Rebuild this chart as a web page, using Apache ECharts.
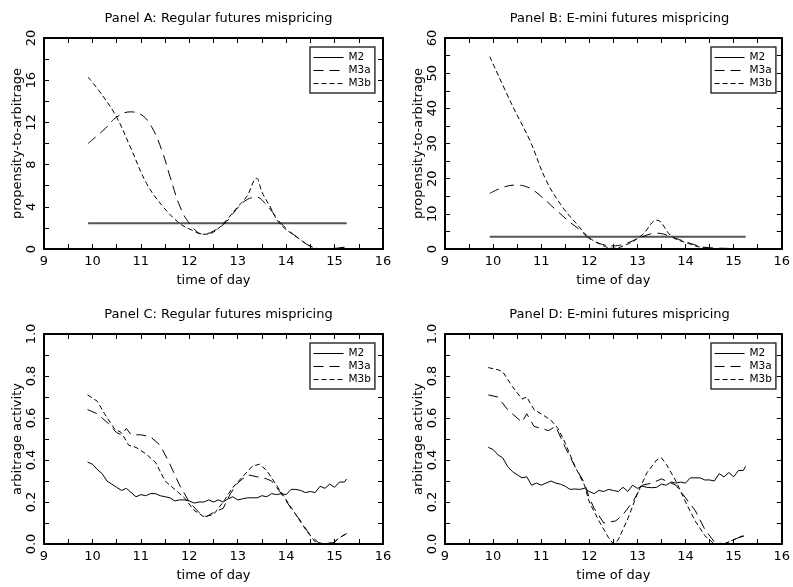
<!DOCTYPE html>
<html>
<head>
<meta charset="utf-8">
<script src="https://cdn.jsdelivr.net/npm/echarts@6/dist/echarts.min.js"></script>
<style>
html,body{margin:0;padding:0;background:#fff;}
#chart{width:793px;height:587px;}
</style>
</head>
<body>
<div id="chart"></div>
<script>
// ---- Data ----
const seriesNames = ['M2', 'M3a', 'M3b'];
const panelTitles = [
  'Panel A: Regular futures mispricing',
  'Panel B: E-mini futures mispricing',
  'Panel C: Regular futures mispricing',
  'Panel D: E-mini futures mispricing'
];
const yAxisNames = ['propensity-to-arbitrage', 'propensity-to-arbitrage', 'arbitrage activity', 'arbitrage activity'];
const xTickRange = [9, 16, 1];
const yTickRanges = [[0, 20, 4], [0, 60, 10], [0, 1, 0.2], [0, 1, 0.2]];

// Panel A
const aX_M2 = [9.91, 15.25];
const aY_M2 = [2.45, 2.45];
const aX_M3a = [9.91, 10.26, 10.5, 10.78, 11.02, 11.22, 11.43, 11.6, 11.81, 12.01, 12.29, 12.5, 12.77, 13.0, 13.2, 13.4, 13.55, 13.7, 13.9, 14.21, 14.56, 14.8, 15.0, 15.25];
const aY_M3a = [10.0, 11.4, 12.5, 13.0, 12.7, 11.6, 9.4, 6.9, 4.0, 2.4, 1.4, 1.7, 2.6, 3.9, 4.7, 4.9, 4.4, 3.6, 2.4, 1.17, 0.15, 0.0, 0.05, 0.2];
const aX_M3b = [9.91, 10.2, 10.5, 10.78, 11.12, 11.46, 11.81, 12.05, 12.29, 12.5, 12.77, 13.0, 13.19, 13.39, 13.5, 13.67, 13.87, 14.21, 14.56, 14.8, 15.0, 15.25];
const aY_M3b = [16.3, 14.6, 12.5, 9.7, 6.2, 4.0, 2.4, 1.8, 1.4, 1.6, 2.75, 4.0, 5.0, 6.7, 5.4, 4.0, 2.4, 1.17, 0.15, 0.0, 0.05, 0.2];

// Panel B
const bX_M2 = [9.93, 15.25];
const bY_M2 = [3.5, 3.5];
const bX_M3a = [9.93, 10.2, 10.48, 10.75, 10.96, 11.31, 11.58, 11.8, 12.0, 12.27, 12.5, 12.75, 13.1, 13.4, 13.8, 14.1, 14.4, 14.8, 15.25];
const bY_M3a = [15.8, 17.5, 18.2, 17.4, 15.4, 11.1, 7.8, 5.5, 3.0, 1.3, 0.9, 1.5, 3.5, 4.5, 3.0, 1.6, 0.5, 0.2, 0.1];
const bX_M3b = [9.93, 10.41, 10.76, 11.1, 11.44, 11.79, 11.99, 12.27, 12.48, 12.75, 13.1, 13.4, 13.72, 14.06, 14.4, 14.8, 15.25];
const bY_M3b = [54.7, 40.5, 31.0, 19.6, 12.0, 6.3, 3.3, 1.1, 0.2, 1.1, 4.0, 8.2, 3.5, 1.6, 0.3, 0.1, 0.1];

// Panel C
const cX_M2 = [9.9,10.0,10.1,10.2,10.3,10.4,10.5,10.6,10.7,10.8,10.9,11.0,11.1,11.2,11.3,11.4,11.5,11.6,11.7,11.8,11.9,12.0,12.1,12.2,12.3,12.4,12.5,12.6,12.7,12.8,12.9,13.0,13.1,13.2,13.3,13.4,13.5,13.6,13.7,13.8,13.9,14.0,14.1,14.2,14.3,14.4,14.5,14.6,14.7,14.8,14.9,15.0,15.1,15.2,15.25];
const cY_M2 = [0.39,0.38,0.355,0.335,0.30,0.285,0.27,0.255,0.265,0.245,0.225,0.235,0.23,0.24,0.24,0.23,0.225,0.22,0.205,0.21,0.21,0.205,0.195,0.20,0.20,0.21,0.20,0.21,0.20,0.215,0.225,0.21,0.215,0.22,0.22,0.22,0.23,0.225,0.24,0.235,0.24,0.235,0.26,0.26,0.255,0.245,0.25,0.245,0.275,0.265,0.285,0.27,0.295,0.295,0.31];
const cX_M3a = [9.9,10.1,10.3,10.5,10.6,10.7,10.8,11.0,11.2,11.4,11.6,11.8,12.0,12.2,12.35,12.5,12.7,12.85,13.0,13.2,13.4,13.6,13.7,13.9,14.1,14.3,14.5,14.7,14.9,15.0,15.1,15.25];
const cY_M3a = [0.64,0.62,0.58,0.53,0.52,0.55,0.52,0.52,0.51,0.47,0.38,0.28,0.20,0.15,0.13,0.15,0.17,0.24,0.29,0.33,0.32,0.31,0.30,0.24,0.17,0.11,0.04,0.0,0.0,0.01,0.03,0.05];
const cX_M3b = [9.9,10.1,10.25,10.45,10.6,10.75,10.9,11.1,11.3,11.5,11.7,11.9,12.1,12.3,12.5,12.7,12.9,13.1,13.3,13.45,13.6,13.8,14.0,14.2,14.4,14.6,14.8,15.0,15.1,15.25];
const cY_M3b = [0.71,0.68,0.62,0.55,0.53,0.47,0.46,0.43,0.39,0.30,0.26,0.22,0.16,0.13,0.14,0.20,0.27,0.32,0.37,0.38,0.35,0.28,0.21,0.14,0.07,0.01,0.0,0.01,0.03,0.05];

// Panel D
const dX_M2 = [9.9,10.0,10.1,10.2,10.3,10.4,10.5,10.6,10.7,10.8,10.9,11.0,11.1,11.2,11.3,11.4,11.5,11.6,11.7,11.8,11.9,12.0,12.1,12.2,12.3,12.4,12.5,12.6,12.7,12.8,12.9,13.0,13.1,13.2,13.3,13.4,13.5,13.6,13.7,13.8,13.9,14.0,14.1,14.2,14.3,14.4,14.5,14.6,14.7,14.8,14.9,15.0,15.1,15.2,15.25];
const dY_M2 = [0.46,0.45,0.425,0.41,0.37,0.345,0.33,0.315,0.32,0.28,0.29,0.28,0.29,0.30,0.29,0.285,0.275,0.26,0.262,0.26,0.265,0.25,0.24,0.255,0.25,0.26,0.255,0.25,0.27,0.25,0.28,0.265,0.275,0.27,0.268,0.27,0.285,0.28,0.295,0.29,0.295,0.29,0.315,0.315,0.315,0.305,0.305,0.30,0.335,0.32,0.34,0.32,0.35,0.35,0.37];
const dX_M3a = [9.9,10.1,10.3,10.5,10.6,10.7,10.85,11.0,11.15,11.3,11.5,11.7,11.9,12.0,12.1,12.3,12.55,12.7,12.9,13.1,13.3,13.5,13.6,13.8,14.0,14.2,14.4,14.6,14.8,15.0,15.1,15.25];
const dY_M3a = [0.71,0.70,0.64,0.60,0.58,0.62,0.56,0.55,0.54,0.56,0.46,0.37,0.29,0.22,0.17,0.10,0.11,0.14,0.20,0.28,0.29,0.31,0.30,0.28,0.22,0.16,0.07,0.01,0.0,0.02,0.03,0.04];
const dX_M3b = [9.9,10.1,10.2,10.4,10.6,10.7,10.85,11.0,11.2,11.35,11.5,11.7,11.9,12.0,12.2,12.4,12.5,12.6,12.8,13.0,13.2,13.4,13.5,13.6,13.8,14.0,14.2,14.4,14.6,14.8,15.0,15.1,15.2];
const dY_M3b = [0.84,0.83,0.82,0.75,0.69,0.70,0.64,0.62,0.59,0.55,0.48,0.37,0.28,0.20,0.11,0.03,0.0,0.02,0.12,0.24,0.34,0.40,0.41,0.38,0.30,0.20,0.11,0.04,0.0,0.0,0.02,0.03,0.04];

const panelData = [
  [[aX_M2, aY_M2], [aX_M3a, aY_M3a], [aX_M3b, aY_M3b]],
  [[bX_M2, bY_M2], [bX_M3a, bY_M3a], [bX_M3b, bY_M3b]],
  [[cX_M2, cY_M2], [cX_M3a, cY_M3a], [cX_M3b, cY_M3b]],
  [[dX_M2, dY_M2], [dX_M3a, dY_M3a], [dX_M3b, dY_M3b]]
];

// ---- Layout / style ----
const FONT = 'DejaVu Sans';
const grids = [
  {left: 44, top: 38, width: 339, height: 211},
  {left: 445, top: 38, width: 339, height: 211},
  {left: 44, top: 334, width: 339, height: 210},
  {left: 445, top: 334, width: 339, height: 210}
];
const lineTypes = ['solid', [10, 6], [5, 3]];

function zip(xs, ys) { return xs.map((x, i) => [x, ys[i]]); }

const option = {
  animation: false,
  backgroundColor: '#fff',
  title: [], grid: [], xAxis: [], yAxis: [], series: [], legend: []
};

const tickStyle = {color: '#000', width: 1};
grids.forEach((g, i) => {
  option.grid.push({left: g.left, top: g.top, width: g.width, height: g.height, containLabel: false});
  option.title.push({
    text: panelTitles[i], left: g.left + g.width / 2, top: g.top - 31, textAlign: 'center',
    textStyle: {fontFamily: FONT, fontSize: 13, fontWeight: 'normal', color: '#000'}
  });
  const yr = yTickRanges[i];
  const baseX = {
    gridIndex: i, type: 'value', min: xTickRange[0], max: xTickRange[1], interval: xTickRange[2],
    axisLine: {onZero: false, lineStyle: {color: '#000', width: 2}},
    axisTick: {inside: true, length: 5, lineStyle: tickStyle},
    minorTick: {show: true, splitNumber: 2, length: 5, lineStyle: tickStyle},
    splitLine: {show: false}
  };
  option.xAxis.push(Object.assign({}, baseX, {
    position: 'bottom',
    axisLabel: {color: '#000', fontSize: 13, fontFamily: FONT, margin: 6},
    name: 'time of day', nameLocation: 'middle', nameGap: 25,
    nameTextStyle: {color: '#000', fontSize: 13, fontFamily: FONT}
  }));
  option.xAxis.push(Object.assign({}, baseX, {position: 'top', axisLabel: {show: false}}));
  const baseY = {
    gridIndex: i, type: 'value', min: yr[0], max: yr[1], interval: yr[2],
    axisLine: {onZero: false, lineStyle: {color: '#000', width: 2}},
    axisTick: {inside: true, length: 5, lineStyle: tickStyle},
    minorTick: {show: true, splitNumber: 2, length: 5, lineStyle: tickStyle},
    splitLine: {show: false}
  };
  option.yAxis.push(Object.assign({}, baseY, {
    position: 'left',
    axisLabel: {color: '#000', fontSize: 13, fontFamily: FONT, margin: 6, rotate: 90,
      formatter: v => (yr[2] < 1 ? v.toFixed(1) : String(v))},
    name: yAxisNames[i], nameLocation: 'middle', nameGap: 20,
    nameTextStyle: {color: '#000', fontSize: 13, fontFamily: FONT}
  }));
  option.yAxis.push(Object.assign({}, baseY, {position: 'right', axisLabel: {show: false}}));

  seriesNames.forEach((nm, k) => {
    const d = panelData[i][k];
    const isM2Smooth = (k === 0 && i < 2);
    option.series.push({
      name: nm, type: 'line', xAxisIndex: 2 * i, yAxisIndex: 2 * i,
      data: zip(d[0], d[1]), symbol: 'none', smooth: i < 2 ? 0.4 : false,
      lineStyle: {color: isM2Smooth ? '#555' : '#000', width: isM2Smooth ? 2 : 1, type: lineTypes[k]},
      itemStyle: {color: '#000'}
    });
  });

  option.legend.push({
    data: seriesNames.map((nm, k) => ({
      name: nm,
      itemStyle: {color: 'rgba(0,0,0,0)', borderWidth: 0, opacity: 0},
      lineStyle: {color: '#000', width: 1, type: lineTypes[k]}
    })),
    orient: 'vertical', left: g.left + g.width - 73, top: g.top + 9,
    itemWidth: 30, itemHeight: 8, itemGap: 2, padding: [5, 4, 4, 3],
    borderColor: '#333', borderWidth: 1.5, selectedMode: false,
    textStyle: {fontFamily: FONT, fontSize: 10.5, color: '#000', lineHeight: 11}
  });
});

const chart = echarts.init(document.getElementById('chart'), null, {renderer: 'canvas'});
chart.setOption(option);
</script>
</body>
</html>
